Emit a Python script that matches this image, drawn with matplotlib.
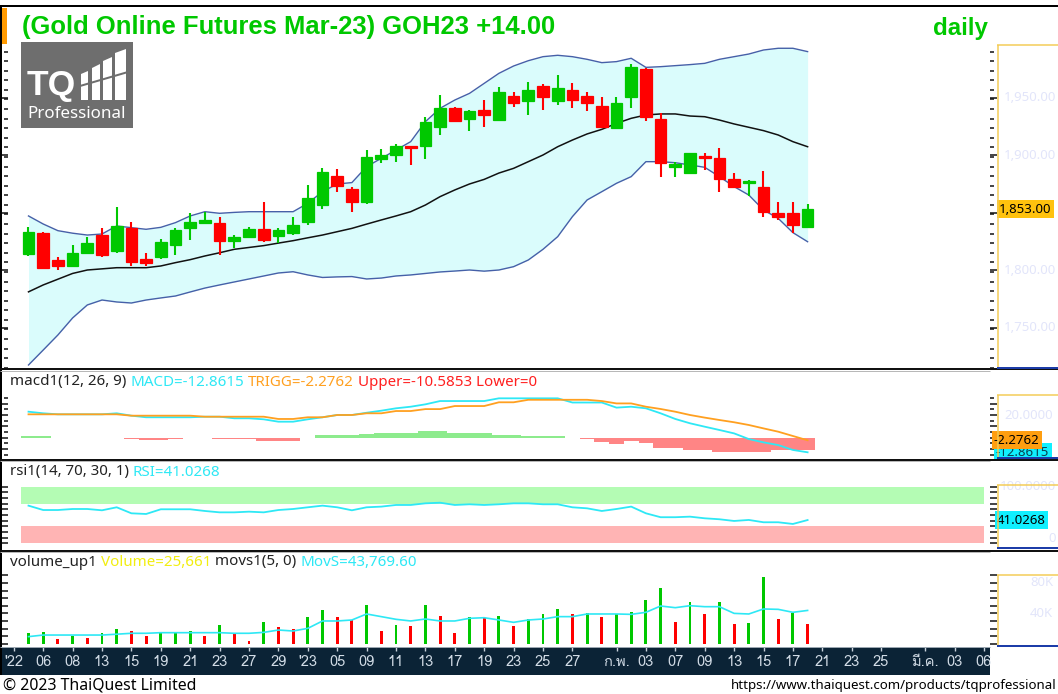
import matplotlib
matplotlib.use('Agg')
import matplotlib.pyplot as plt
import matplotlib.transforms as mtransforms
from matplotlib.patches import Rectangle, Polygon
from matplotlib.lines import Line2D
from matplotlib.ticker import FixedLocator
from matplotlib import font_manager
from matplotlib.ft2font import FT2Font
import numpy as np

# ---------------- data (GOH23 daily) ----------------
opens = [1813.6, 1832.5, 1808.7, 1803.5, 1815.1, 1830.4, 1816.8, 1836.8, 1809.6, 1811.6,
         1821.7, 1836.2, 1841.2, 1841.2, 1825.2, 1829.0, 1835.7, 1829.6, 1831.9, 1842.0,
         1856.5, 1882.0, 1870.1, 1859.4, 1896.2, 1900.0, 1907.8, 1907.8, 1924.1, 1940.6,
         1931.3, 1939.1, 1930.4, 1951.6, 1947.0, 1960.3, 1947.0, 1956.5, 1951.3, 1942.6,
         1923.2, 1950.1, 1974.5, 1931.3, 1889.9, 1884.6, 1899.1, 1897.7, 1878.8, 1875.4,
         1872.5, 1849.3, 1849.9, 1837.1]
highs = [1837.1, 1833.3, 1811.6, 1821.7, 1829.0, 1836.2, 1855.0, 1842.0, 1814.5, 1827.0,
         1836.2, 1849.3, 1850.7, 1846.4, 1830.4, 1837.1, 1858.8, 1836.8, 1845.8, 1873.9,
         1889.0, 1887.5, 1872.5, 1904.3, 1904.9, 1909.6, 1907.8, 1932.8, 1952.2, 1942.0,
         1939.1, 1947.8, 1959.4, 1955.1, 1963.8, 1961.7, 1969.6, 1962.9, 1955.1, 1950.1,
         1950.1, 1979.1, 1975.4, 1936.2, 1894.2, 1902.0, 1901.4, 1906.4, 1884.0, 1878.3,
         1886.1, 1858.8, 1858.8, 1857.0]
lows = [1812.2, 1800.6, 1800.0, 1802.9, 1813.6, 1811.0, 1814.5, 1803.5, 1803.5, 1810.0,
        1813.0, 1826.1, 1840.6, 1813.0, 1818.8, 1827.5, 1824.6, 1823.8, 1830.4, 1839.1,
        1852.8, 1868.1, 1850.1, 1857.4, 1892.8, 1894.2, 1891.3, 1896.2, 1917.4, 1928.4,
        1920.9, 1924.6, 1929.6, 1942.0, 1934.8, 1939.1, 1943.5, 1940.6, 1938.3, 1924.1,
        1922.3, 1940.6, 1929.6, 1880.6, 1881.2, 1883.5, 1887.0, 1867.5, 1871.9, 1864.3,
        1846.4, 1843.5, 1832.5, 1836.2]
closes = [1833.3, 1802.0, 1803.5, 1814.5, 1823.8, 1813.0, 1838.6, 1807.2, 1806.4, 1824.6,
          1834.8, 1842.0, 1843.5, 1825.2, 1828.4, 1835.7, 1826.1, 1834.8, 1839.1, 1862.3,
          1884.9, 1873.0, 1858.8, 1898.0, 1900.0, 1907.8, 1905.8, 1929.0, 1940.6, 1929.6,
          1938.6, 1934.8, 1955.0, 1945.5, 1956.5, 1950.7, 1958.0, 1947.8, 1945.5, 1924.1,
          1945.5, 1976.8, 1933.3, 1892.8, 1891.9, 1901.4, 1897.1, 1878.8, 1872.5, 1877.7,
          1850.7, 1846.4, 1839.0, 1853.0]

bb_upper = [1847.0, 1840.0, 1834.2, 1832.0, 1830.4, 1831.3, 1838.3, 1836.8, 1835.4, 1837.1,
            1841.2, 1847.0, 1850.7, 1849.3, 1850.1, 1850.7, 1850.7, 1850.7, 1850.7, 1858.0,
            1868.1, 1874.8, 1876.0, 1889.9, 1897.1, 1904.3, 1911.6, 1929.0, 1940.6, 1947.8,
            1953.6, 1962.3, 1971.0, 1977.4, 1982.0, 1985.5, 1986.7, 1985.5, 1983.2, 1980.3,
            1981.2, 1984.1, 1976.2, 1976.8, 1977.7, 1978.6, 1979.7, 1983.2, 1985.5, 1987.8,
            1991.3, 1992.8, 1992.8, 1989.9]
bb_mid = [1781.0, 1787.0, 1792.0, 1797.0, 1800.0, 1801.0, 1802.0, 1802.0, 1802.0, 1803.5,
          1806.4, 1809.0, 1812.2, 1815.0, 1818.0, 1819.6, 1821.2, 1823.4, 1825.5, 1828.0,
          1830.4, 1833.3, 1836.2, 1839.9, 1843.5, 1847.0, 1850.7, 1856.5, 1863.8, 1869.6,
          1874.8, 1878.8, 1884.3, 1888.4, 1894.2, 1900.0, 1907.2, 1913.0, 1918.3, 1922.3,
          1927.5, 1931.9, 1934.8, 1935.7, 1935.7, 1933.9, 1933.3, 1930.4, 1927.0, 1924.1,
          1921.2, 1917.4, 1911.6, 1907.2]
bb_lower = [1717.4, 1730.4, 1743.5, 1758.3, 1769.6, 1773.9, 1772.2, 1771.3, 1773.9, 1775.7,
            1777.4, 1780.9, 1784.3, 1787.0, 1789.6, 1792.2, 1794.8, 1797.4, 1798.5, 1795.7,
            1793.5, 1794.0, 1794.3, 1792.2, 1793.0, 1794.8, 1795.7, 1797.0, 1798.3, 1799.1,
            1800.0, 1799.0, 1800.0, 1802.9, 1808.7, 1818.0, 1829.0, 1846.4, 1860.9, 1868.1,
            1875.4, 1881.2, 1894.2, 1894.2, 1893.3, 1891.3, 1889.3, 1881.2, 1872.5, 1865.2,
            1852.2, 1844.9, 1832.5, 1824.6]

macd = [22.9, 21.5, 20.6, 20.6, 20.6, 20.6, 21.5, 19.4, 18.0, 18.0,
        18.0, 18.0, 18.5, 18.5, 17.1, 17.1, 16.2, 14.1, 14.1, 16.2,
        18.0, 20.0, 20.0, 22.0, 23.8, 25.9, 27.3, 29.4, 32.3, 32.3,
        32.3, 32.3, 34.7, 34.7, 34.7, 34.7, 34.7, 31.0, 31.0, 31.0,
        26.5, 27.3, 25.9, 21.5, 16.5, 12.7, 9.7, 6.8, 3.8, -1.2,
        -4.1, -6.5, -10.8, -12.8615]
trigg = [20.6, 20.6, 20.6, 20.6, 20.6, 20.6, 20.6, 19.4, 19.4, 19.4,
         19.4, 19.4, 18.5, 18.5, 18.5, 18.5, 18.5, 16.5, 16.5, 18.0,
         18.0, 20.0, 20.0, 21.5, 21.5, 23.5, 23.5, 25.2, 25.2, 27.9,
         27.9, 27.9, 31.2, 31.2, 33.4, 33.4, 33.4, 33.4, 33.4, 32.3,
         30.2, 30.2, 27.3, 25.3, 22.9, 20.0, 17.7, 15.6, 13.6, 11.2,
         8.2, 5.3, 1.5, -2.2762]
macd_hist = [1.8, 1.8, 0, 0, 0, 0, 0, -1.2, -2.3, -2.3,
             -1.2, 0, 0, -1.2, -1.2, -1.2, -2.6, -2.6, -2.6, 0,
             2.3, 2.3, 2.1, 3.5, 4.4, 4.4, 4.4, 5.9, 5.9, 3.8,
             3.8, 3.8, 2.3, 2.3, 1.8, 1.8, 1.8, 0, -1.2, -4.1,
             -5.6, -2.9, -5.0, -8.8, -8.8, -10.8, -10.8, -12.3, -12.3, -12.3,
             -12.3, -11.1, -11.1, -10.5853]

rsi = [66.4, 58.7, 58.7, 60.5, 60.5, 58.2, 63.5, 52.9, 51.7, 60.0,
       60.0, 60.0, 57.0, 54.6, 54.6, 55.8, 54.6, 58.7, 60.5, 63.5,
       66.4, 63.5, 58.2, 63.5, 64.7, 67.6, 67.6, 70.5, 71.6, 67.6,
       68.8, 67.6, 68.8, 70.5, 70.5, 68.8, 68.8, 63.5, 61.7, 57.0,
       60.5, 64.7, 52.9, 46.0, 46.0, 47.0, 44.1, 42.4, 39.4, 41.2,
       37.1, 37.1, 34.1, 41.0268]
rsi_hi, rsi_lo = 70, 30

volume_k = [13.7, 14.9, 5.7, 10.5, 7.9, 13.7, 19.4, 17.2, 10.1, 14.5,
            14.6, 17.2, 10.1, 24.6, 13.7, 4.1, 28.6, 21.5, 18.9, 34.7,
            43.9, 34.7, 30.7, 50.9, 17.2, 24.6, 23.3, 50.9, 36.4, 13.7,
            34.7, 33.4, 36.4, 23.3, 32.1, 38.6, 46.3, 39.5, 39.9, 34.6,
            39.1, 42.0, 57.5, 72.8, 29.0, 55.4, 38.6, 55.4, 25.5, 26.8,
            87.3, 32.5, 40.9, 25.661]
movs_k = [9.3, 11.4, 11.4, 11.4, 11.4, 11.4, 12.5, 13.7, 13.7, 14.5,
          14.5, 14.5, 14.5, 14.5, 13.7, 13.7, 14.9, 18.0, 16.7, 20.2,
          29.9, 29.9, 31.2, 39.1, 35.6, 32.1, 29.9, 32.5, 29.9, 29.9,
          33.4, 34.2, 31.2, 28.1, 31.2, 32.5, 35.6, 35.6, 39.1, 39.1,
          39.1, 38.6, 41.3, 49.6, 47.4, 50.0, 48.7, 48.7, 39.9, 39.1,
          45.7, 45.2, 41.3, 43.7696]

tick_idx = [-1, 1, 3, 5, 7, 9, 11, 13, 15, 17, 19, 21, 23, 25, 27, 29, 31, 33, 35, 37,
            40, 42, 44, 46, 48, 50, 52, 54, 56, 58, 61, 63, 65]
tick_lab = ["'22", '06', '08', '13', '15', '19', '21', '23', '27', '29', "'23", '05', '09',
            '11', '13', '17', '19', '23', '25', '27', 'ก.พ.', '03', '07', '09', '13', '15',
            '17', '21', '23', '25', 'มี.ค.', '03', '06']

# ---------------- setup ----------------
n = len(closes)
idx = np.arange(n)
W, H = 1058, 694
fig = plt.figure(figsize=(W / 100, H / 100), dpi=100)
fig.patch.set_facecolor('white')
renderer = fig.canvas.get_renderer()

UI = ['Noto Sans', 'DejaVu Sans']
BOLD = ['Liberation Sans', 'DejaVu Sans']


def thai_font():
    for f in font_manager.fontManager.ttflist:
        try:
            if 0x0E01 in FT2Font(f.fname).get_charmap():
                return f.name
        except Exception:
            continue
    return None


th = thai_font()
TH = [th] + UI if th else UI

GREEN, RED = '#00C800', '#FF0000'
CYAN, ORANGE = '#2EE8F5', '#FFA020'
FAINT = '#E2E5FA'

# bar slot geometry: bar i sits at x = 28.5 + 14.7*i pixels
SLOT0, SLOT = 28.5, 14.7


def px2i(px):
    return (px - SLOT0) / SLOT


def px_ax(x0, y0, x1, y1, **kw):
    return fig.add_axes([x0 / W, 1 - y1 / H, (x1 - x0) / W, (y1 - y0) / H], **kw)


def ylim_from(top, bot, ref_px, ref_val, ppu):
    return ref_val - (bot - ref_px) / ppu, ref_val + (ref_px - top) / ppu


def fline(x0, y0, x1, y1, color, lw_px, z=5):
    fig.add_artist(Line2D([x0 / W, x1 / W], [1 - y0 / H, 1 - y1 / H], color=color,
                          lw=lw_px * 0.72, transform=fig.transFigure, zorder=z,
                          solid_capstyle='butt'))


def text_w(t):
    return t.get_window_extent(renderer).width


def fit_text(x, y, s, width, **kw):
    t = fig.text(x / W, 1 - y / H, s, **kw)
    t.set_fontsize(t.get_fontsize() * width / text_w(t))
    return t


def style_panel(ax, ylim, major, minor):
    ax.set_xlim(px2i(8), px2i(990))
    ax.set_ylim(*ylim)
    ax.set_xticks([])
    for s in ax.spines.values():
        s.set_visible(False)
    ax.yaxis.set_major_locator(FixedLocator(major))
    ax.yaxis.set_minor_locator(FixedLocator(minor))
    ax.tick_params(axis='y', which='both', left=True, right=True, labelleft=False,
                   labelright=False, direction='out', width=1.1, color='#111111')
    ax.tick_params(axis='y', which='major', length=5)
    ax.tick_params(axis='y', which='minor', length=3)


# ---------------- price panel ----------------
axp = px_ax(8, 45, 990, 368)
style_panel(axp, ylim_from(45, 368, 155, 1900, 1.15),
            np.arange(1750, 2000, 50), np.arange(1715, 2000, 50 / 6))
axp.fill_between(idx, bb_lower, bb_upper, color='#DAFCFC', lw=0, zorder=1)
axp.plot(idx, bb_upper, color='#4660A8', lw=1.0, zorder=2)
axp.plot(idx, bb_lower, color='#4660A8', lw=1.0, zorder=2)
axp.plot(idx, bb_mid, color='#111111', lw=1.1, zorder=2)
o, c = np.array(opens), np.array(closes)
ccol = [GREEN if cc >= oo else RED for oo, cc in zip(o, c)]
axp.vlines(idx, lows, highs, colors=ccol, lw=1.5, zorder=3)
axp.bar(idx, np.abs(c - o), bottom=np.minimum(o, c), width=0.8, color=ccol,
        edgecolor=ccol, linewidth=0.9, zorder=4)

# ---------------- MACD panel ----------------
axm = px_ax(8, 371, 990, 458)
style_panel(axm, ylim_from(371, 458, 437.7, 0, 1.135),
            [-10, 0, 10, 20, 30], [-15, -5, 5, 15, 25, 35])
hcol = ['#8DEB8D' if h >= 0 else '#FF8585' for h in macd_hist]
axm.bar(idx, macd_hist, width=1.0, color=hcol, lw=0, zorder=1)
axm.plot(idx, macd, color=CYAN, lw=1.3, zorder=2)
axm.plot(idx, trigg, color=ORANGE, lw=1.3, zorder=3)

# ---------------- RSI panel ----------------
axr = px_ax(8, 461, 990, 549)
style_panel(axr, ylim_from(461, 549, 543.3, 0, 0.567), np.arange(0, 101, 10), [])
band_x = [-0.5, tick_idx[-1]]
axr.fill_between(band_x, rsi_hi, 100, color='#B4FCB4', lw=0)
axr.fill_between(band_x, 0, rsi_lo, color='#FFB4B4', lw=0)
axr.plot(idx, rsi, color=CYAN, lw=1.3)

# ---------------- volume panel ----------------
axv = px_ax(8, 552, 990, 647)
style_panel(axv, ylim_from(552, 647, 643.7, 0, 0.76), np.arange(0, 91, 10), [])
vk = np.array(volume_k)
vcol = [GREEN] + [GREEN if vk[i] >= vk[i - 1] else RED for i in range(1, n)]
axv.bar(idx, vk, width=0.2, color=vcol, lw=0, zorder=2)
axv.plot(idx, movs_k, color=CYAN, lw=1.2, zorder=3)

# ---------------- date strip ----------------
axx = px_ax(0, 647, 990, 675)
axx.set_facecolor('#0B2336')
axx.set_xlim(px2i(0), px2i(990))
axx.set_ylim(0, 1)
axx.set_yticks([])
for s in axx.spines.values():
    s.set_visible(False)
axx.set_xticks(tick_idx)
axx.set_xticklabels([])
axx.tick_params(axis='x', bottom=False, top=True, direction='in', length=3,
                width=1, color='#C8D2DC')
for ti, tl in zip(tick_idx, tick_lab):
    axx.text(ti, 0.45, tl, ha='center', va='center', color='#D2DCE6', fontsize=10.5,
             family=TH)

# ---------------- frame / separators ----------------
fline(0, 6, W, 6, 'black', 2)
fline(1, 6, 1, 675, 'black', 2)
for yy in (369.5, 459.5, 550.5):
    fline(0, yy, W, yy, '#111111', 2)
    fline(0, yy + 1.5, 990, yy + 1.5, '#B8B8B8', 1)
fline(0, 647, 990, 647, '#9AA6B0', 1)

# right axis boxes: (box top, panel bottom)
for top, bot in ((45, 368), (395, 458), (485, 548), (575, 646)):
    fline(997.5, top, 997.5, bot, '#F4CC55', 1.5)
    fline(997, top, W, top, '#F4CC55', 1.5)
    fline(997, bot, W, bot, '#1C3CA8', 2)

fig.add_artist(Rectangle((2 / W, 1 - 44 / H), 5 / W, 36 / H, transform=fig.transFigure,
                         color='#FF9A00', lw=0))

# ---------------- right axis labels ----------------
def rlabel(ax, val, s, x=1004, **kw):
    tr = mtransforms.blended_transform_factory(fig.transFigure, ax.transData)
    kw.setdefault('color', FAINT)
    kw.setdefault('fontsize', 9.5)
    return fig.text(x / W, val, s, transform=tr, family=UI, va='center', ha='left', **kw)


for v in (1950, 1900, 1800, 1750):
    rlabel(axp, v, f'{v:,.2f}')
rlabel(axp, closes[-1], f'{closes[-1]:,.2f}', x=999, color='black',
       bbox=dict(boxstyle='square,pad=0.18', fc='#FFC20E', ec='none'))

rlabel(axm, 20, '20.0000')
rlabel(axm, macd[-1], f'{macd[-1]:.4f}', x=996, color='#0A4050',
       bbox=dict(boxstyle='square,pad=0.18', fc='#10F0FF', ec='none'))
rlabel(axm, trigg[-1], f'{trigg[-1]:.4f}', x=994, color='black',
       bbox=dict(boxstyle='square,pad=0.18', fc='#FF9E10', ec='none'))

rlabel(axr, 100, '100.0000', x=1000)
rlabel(axr, 8, '0', x=1048)
rlabel(axr, rsi[-1], f'{rsi[-1]:.4f}', x=997, color='black',
       bbox=dict(boxstyle='square,pad=0.18', fc='#10F0FF', ec='none'))

rlabel(axv, 80, '80K', x=1030)
rlabel(axv, 40, '40K', x=1030)

# ---------------- panel captions ----------------
probe = fig.text(0, 0, 'macd1(12, 26, 9) MACD=-12.8615 TRIGG=-2.2762 Upper=-10.5853 Lower=0',
                 fontsize=10, family=UI)
lab_size = 10 * 525 / text_w(probe)
probe.remove()
sp_probe = fig.text(0, 0, 'a a', fontsize=lab_size, family=UI)
sp2 = fig.text(0, 0, 'aa', fontsize=lab_size, family=UI)
space = text_w(sp_probe) - text_w(sp2)
sp_probe.remove()
sp2.remove()


def seg_text(x, y, parts):
    for s, col in parts:
        t = fig.text(x / W, 1 - y / H, s, color=col, fontsize=lab_size, family=UI,
                     ha='left', va='center')
        x += text_w(t) + space


DARK = '#222222'
seg_text(10, 382, [('macd1(12, 26, 9)', DARK), (f'MACD={macd[-1]:.4f}', CYAN),
                   (f'TRIGG={trigg[-1]:.4f}', ORANGE),
                   (f'Upper={macd_hist[-1]:.4f} Lower=0', '#FF2020')])
seg_text(10, 472, [('rsi1(14, 70, 30, 1)', DARK), (f'RSI={rsi[-1]:.4f}', CYAN)])
seg_text(10, 562, [('volume_up1', DARK), (f'Volume={volume_k[-1] * 1000:,.0f}', '#F2EE10'),
                   ('movs1(5, 0)', DARK), (f'MovS={movs_k[-1] * 1000:,.2f}', CYAN)])

# ---------------- title / logo / footer ----------------
fit_text(22, 27, '(Gold Online Futures Mar-23) GOH23 +14.00', 533, color='#00C800',
         fontsize=16, fontweight='bold', family=BOLD, ha='left', va='center')
fit_text(933, 28, 'daily', 55, color='#00C800', fontsize=16, fontweight='bold',
         family=BOLD, ha='left', va='center')

fig.add_artist(Rectangle((21 / W, 1 - 128 / H), 112 / W, 86 / H, transform=fig.transFigure,
                         color='#6E6E6E', lw=0, zorder=6))
fit_text(27, 86, 'TQ', 49, color='white', fontsize=20, fontweight='bold', family=BOLD,
         ha='left', va='center', zorder=7)
fit_text(27, 114, 'Professional', 99, color='white', fontsize=11, family=UI,
         ha='left', va='center', zorder=7)
for xa, xb, ta, tb in ((81, 88, 74, 71), (92, 100, 68, 64), (103, 112, 61, 57), (115, 126, 53, 49)):
    fig.add_artist(Polygon([(xa / W, 1 - 100 / H), (xb / W, 1 - 100 / H), (xb / W, 1 - tb / H),
                            (xa / W, 1 - ta / H)], closed=True, transform=fig.transFigure,
                           color='white', lw=0, zorder=7))
fline(80, 86, 128, 72, '#6E6E6E', 2, z=8)

fit_text(3, 685, '© 2023 ThaiQuest Limited', 194, color='black', fontsize=11, family=UI,
         ha='left', va='center')
fit_text(W - 1, 686, 'https://www.thaiquest.com/products/tqprofessional', 326, color='black',
         fontsize=11, family=UI, ha='right', va='center')

fig.savefig('out.png', dpi=100)
